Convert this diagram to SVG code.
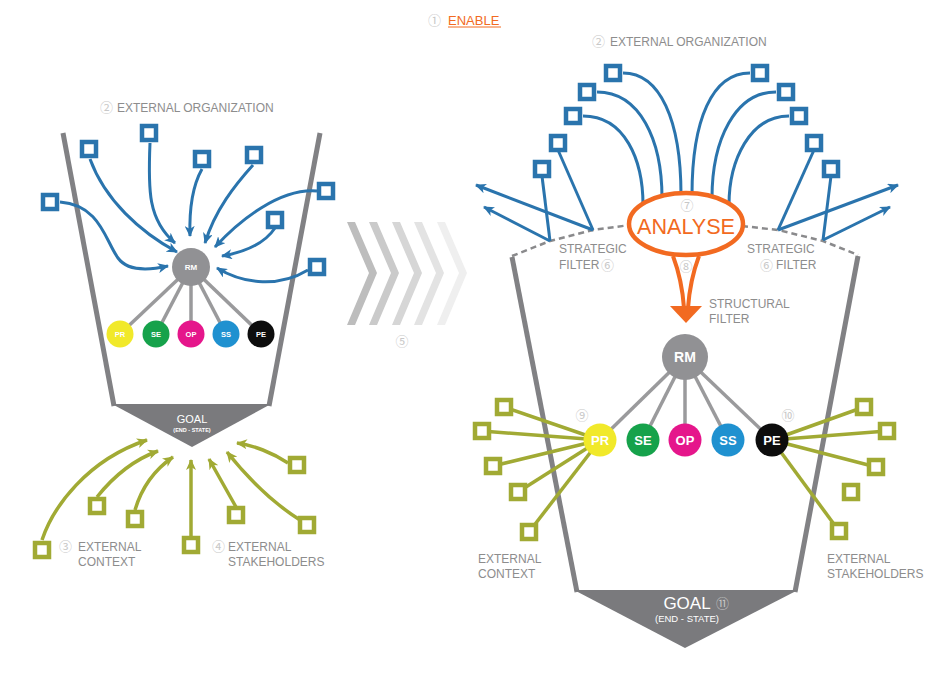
<svg xmlns="http://www.w3.org/2000/svg" width="949" height="681" viewBox="0 0 949 681">
<defs>
<style>
.lbl{font-family:"Liberation Sans",Arial,sans-serif;font-size:12px;fill:#8d8d8d}
.num{font-family:"Noto Sans CJK SC","DejaVu Sans",sans-serif;font-size:13px;fill:#c8c8c8}
.funnel{stroke:#818184;stroke-width:5;fill:none}
.goal{fill:#7a7a7d}
.ba{stroke:#2a74ad;stroke-width:3;fill:none}
.ga{stroke:#a1aa34;stroke-width:3.5;fill:none}
.gl{stroke:#a1aa34;stroke-width:3.5;fill:none}
.bsq{fill:#fff;stroke:#2a74ad;stroke-width:4.5}
.gsq{fill:#fff;stroke:#a1aa34;stroke-width:4.5}
.spoke{stroke:#9a9a9c;stroke-width:3.5}
.ctxt{font-family:"Liberation Sans",Arial,sans-serif;font-weight:bold;fill:#fff;text-anchor:middle}
.gtxt{font-family:"Liberation Sans",Arial,sans-serif;fill:#fff;text-anchor:middle}
.dash{stroke:#8a8a8c;stroke-width:2.5;fill:none;stroke-dasharray:6 4}
</style>
<marker id="ab" markerUnits="userSpaceOnUse" markerWidth="12" markerHeight="10" refX="10" refY="5" orient="auto">
<path d="M0,0 L11,5 L0,10 L3,5 Z" fill="#2a74ad"/>
</marker>
<marker id="ag" markerUnits="userSpaceOnUse" markerWidth="12" markerHeight="10" refX="10" refY="5" orient="auto">
<path d="M0,0 L11,5 L0,10 L3,5 Z" fill="#a1aa34"/>
</marker>
</defs>
<rect width="949" height="681" fill="#fff"/>

<g id="title">
<text class="num" x="428" y="25">①</text>
<text x="448" y="25" font-family="Liberation Sans,Arial,sans-serif" font-size="13" fill="#f26a21">ENABLE</text>
<line x1="448" y1="27" x2="501" y2="27" stroke="#f26a21" stroke-width="1"/>
</g>

<!-- LEFT DIAGRAM -->
<g id="left-funnel">
<line class="funnel" x1="63" y1="133" x2="114" y2="406"/>
<line class="funnel" x1="320" y1="133" x2="269" y2="406"/>
<polygon class="goal" points="112,404 271,404 192,447"/>
<text x="192" y="423" class="gtxt" font-size="11">GOAL</text>
<text x="192" y="432" class="ctxt" font-size="5.5">(END - STATE)</text>
</g>

<g id="left-labels">
<text class="num" x="100" y="112">②</text>
<text class="lbl" x="117" y="112">EXTERNAL ORGANIZATION</text>
<text class="num" x="59" y="551">③</text>
<text class="lbl" x="78" y="551">EXTERNAL</text>
<text class="lbl" x="78" y="566">CONTEXT</text>
<text class="num" x="212" y="551">④</text>
<text class="lbl" x="228" y="551">EXTERNAL</text>
<text class="lbl" x="228" y="566">STAKEHOLDERS</text>
</g>

<g id="left-connectors">
<path class="ba" marker-end="url(#ab)" d="M60,202 C100,205 105,240 118,258 C128,272 150,270 168,266"/>
<path class="ba" marker-end="url(#ab)" d="M90,159 C105,200 140,232 177,252"/>
<path class="ba" marker-end="url(#ab)" d="M150,143 C148,190 148,220 175,243"/>
<path class="ba" marker-end="url(#ab)" d="M202,169 C193,185 189,205 190,236"/>
<path class="ba" marker-end="url(#ab)" d="M253,165 C235,185 215,210 205,243"/>
<path class="ba" marker-end="url(#ab)" d="M317,191 C280,188 240,220 215,247"/>
<path class="ba" marker-end="url(#ab)" d="M275,228 C265,243 245,252 222,256"/>
<path class="ba" marker-end="url(#ab)" d="M308,270 C280,287 245,285 217,268"/>
<line class="spoke" x1="191" y1="267" x2="120" y2="334"/>
<line class="spoke" x1="191" y1="267" x2="156" y2="334"/>
<line class="spoke" x1="191" y1="267" x2="191" y2="334"/>
<line class="spoke" x1="191" y1="267" x2="226" y2="334"/>
<line class="spoke" x1="191" y1="267" x2="261" y2="334"/>
<path class="ga" marker-end="url(#ag)" d="M42,540 C53,507 87,460 147,440"/>
<path class="ga" marker-end="url(#ag)" d="M97,497 C113,477 133,460 158,451"/>
<path class="ga" marker-end="url(#ag)" d="M135,510 C143,483 157,468 173,457"/>
<path class="ga" marker-end="url(#ag)" d="M191,536 L191,460"/>
<path class="ga" marker-end="url(#ag)" d="M236,507 L209,459"/>
<path class="ga" marker-end="url(#ag)" d="M300,520 C273,503 247,477 227,452"/>
<path class="ga" marker-end="url(#ag)" d="M288,463 C273,453 253,445 237,443"/>
</g>

<g id="left-rm"><circle cx="191" cy="267" r="19" fill="#919194"/><text class="ctxt" x="191" y="270" font-size="8">RM</text></g>
<g id="left-pr"><circle cx="120" cy="334" r="13.5" fill="#f1e92a"/><text class="ctxt" x="120" y="337" font-size="7.5">PR</text></g>
<g id="left-se"><circle cx="156" cy="334" r="13.5" fill="#16a24b"/><text class="ctxt" x="156" y="337" font-size="7.5">SE</text></g>
<g id="left-op"><circle cx="191" cy="334" r="13.5" fill="#e5168b"/><text class="ctxt" x="191" y="337" font-size="7.5">OP</text></g>
<g id="left-ss"><circle cx="226" cy="334" r="13.5" fill="#1f91d0"/><text class="ctxt" x="226" y="337" font-size="7.5">SS</text></g>
<g id="left-pe"><circle cx="261" cy="334" r="13.5" fill="#0d0d0d"/><text class="ctxt" x="261" y="337" font-size="7.5">PE</text></g>

<g id="left-blue-squares">
<rect class="bsq" x="43" y="195" width="14" height="14"/>
<rect class="bsq" x="82" y="142" width="14" height="14"/>
<rect class="bsq" x="142" y="126" width="14" height="14"/>
<rect class="bsq" x="195" y="152" width="14" height="14"/>
<rect class="bsq" x="247" y="148" width="14" height="14"/>
<rect class="bsq" x="319" y="184" width="14" height="14"/>
<rect class="bsq" x="268" y="213" width="14" height="14"/>
<rect class="bsq" x="310" y="260" width="14" height="14"/>
</g>
<g id="left-green-squares">
<rect class="gsq" x="35" y="543" width="14" height="14"/>
<rect class="gsq" x="90" y="499" width="14" height="14"/>
<rect class="gsq" x="128" y="512" width="14" height="14"/>
<rect class="gsq" x="184" y="538" width="14" height="14"/>
<rect class="gsq" x="229" y="508" width="14" height="14"/>
<rect class="gsq" x="300" y="518" width="14" height="14"/>
<rect class="gsq" x="290" y="458" width="14" height="14"/>
</g>

<!-- CHEVRONS -->
<g id="chevrons">
<polygon points="347,222 355,222 377,273 355,325 347,325 369,273" fill="#bdbdbd"/>
<polygon points="369,222 377,222 399,273 377,325 369,325 391,273" fill="#cacaca"/>
<polygon points="392,222 400,222 422,273 400,325 392,325 414,273" fill="#d6d6d6"/>
<polygon points="414,222 422,222 444,273 422,325 414,325 436,273" fill="#e3e3e3"/>
<polygon points="437,222 445,222 467,273 445,325 437,325 459,273" fill="#efefef"/>
<text class="num" x="402" y="346" text-anchor="middle">⑤</text>
</g>

<!-- RIGHT DIAGRAM -->
<g id="right-funnel">
<line class="funnel" x1="512" y1="257" x2="577" y2="592"/>
<line class="funnel" x1="858" y1="256" x2="795" y2="592"/>
<polygon class="goal" points="574,590 798,590 685,648"/>
<text x="687" y="609" class="gtxt" font-size="17">GOAL</text>
<text class="num" x="716" y="608" font-size="14" fill="#d0d0d0">⑪</text>
<text x="687" y="622" class="gtxt" font-size="9.5">(END - STATE)</text>
</g>

<g id="right-labels">
<text class="num" x="592" y="46">②</text>
<text class="lbl" x="610" y="46">EXTERNAL ORGANIZATION</text>
<text class="lbl" x="559" y="253">STRATEGIC</text>
<text class="lbl" x="559" y="269">FILTER</text>
<text class="num" x="601" y="270" font-size="11.5">⑥</text>
<text class="lbl" x="747" y="253">STRATEGIC</text>
<text class="num" x="760" y="270" font-size="11.5">⑥</text>
<text class="lbl" x="776" y="269">FILTER</text>
<text class="lbl" x="709" y="308">STRUCTURAL</text>
<text class="lbl" x="709" y="323">FILTER</text>
<text class="num" x="686" y="271" text-anchor="middle">⑧</text>
<text class="num" x="582" y="420" text-anchor="middle">⑨</text>
<text class="num" x="788" y="420" text-anchor="middle">⑩</text>
<text class="lbl" x="478" y="563">EXTERNAL</text>
<text class="lbl" x="478" y="578">CONTEXT</text>
<text class="lbl" x="827" y="563">EXTERNAL</text>
<text class="lbl" x="827" y="578">STAKEHOLDERS</text>
</g>

<g id="right-connectors">
<polyline class="dash" points="512,256 550,241 593,230 630,225"/>
<polyline class="dash" points="742,226 778,230 823,241 858,255"/>
<path class="ba" d="M623,73 C660,73 681,120 681,195"/>
<path class="ba" d="M597,92 C640,92 662,140 662,198"/>
<path class="ba" d="M583,116 C625,116 643,160 643,205"/>
<path class="ba" d="M750,73 C712,73 692,120 692,195"/>
<path class="ba" d="M776,92 C735,92 712,140 712,198"/>
<path class="ba" d="M789,116 C750,116 729,160 729,205"/>
<polyline class="ba" points="558,150 593,230"/>
<polyline class="ba" marker-end="url(#ab)" points="593,230 476,185"/>
<polyline class="ba" points="542,176 550,241"/>
<polyline class="ba" marker-end="url(#ab)" points="550,241 484,207"/>
<polyline class="ba" points="814,150 778,230"/>
<polyline class="ba" marker-end="url(#ab)" points="778,230 898,185"/>
<polyline class="ba" points="831,176 823,240"/>
<polyline class="ba" marker-end="url(#ab)" points="823,240 890,207"/>
<path d="M673,256 Q682,280 684,308 M699,256 Q690,280 688,308" stroke="#f26a21" stroke-width="4" fill="none"/>
<polygon points="670,306 702,306 686,323" fill="#f26a21"/>
<line class="spoke" stroke-width="4" x1="685" y1="357" x2="600" y2="440"/>
<line class="spoke" stroke-width="4" x1="685" y1="357" x2="643" y2="440"/>
<line class="spoke" stroke-width="4" x1="685" y1="357" x2="685" y2="440"/>
<line class="spoke" stroke-width="4" x1="685" y1="357" x2="728" y2="440"/>
<line class="spoke" stroke-width="4" x1="685" y1="357" x2="772" y2="440"/>
<line class="gl" x1="504" y1="407" x2="600" y2="440"/>
<line class="gl" x1="482" y1="431" x2="600" y2="440"/>
<line class="gl" x1="493" y1="466" x2="600" y2="440"/>
<line class="gl" x1="518" y1="492" x2="600" y2="440"/>
<line class="gl" x1="529" y1="532" x2="600" y2="440"/>
<line class="gl" x1="864" y1="407" x2="772" y2="440"/>
<line class="gl" x1="887" y1="431" x2="772" y2="440"/>
<line class="gl" x1="876" y1="467" x2="772" y2="440"/>
<line class="gl" x1="839" y1="531" x2="772" y2="440"/>
</g>

<g id="analyse">
<ellipse cx="686" cy="224" rx="57" ry="31" fill="#fff" stroke="#f26a21" stroke-width="4.5"/>
<text class="num" x="687" y="210" text-anchor="middle">⑦</text>
<text x="686" y="234" text-anchor="middle" font-family="Liberation Sans,Arial,sans-serif" font-size="22" fill="#f26a21" textLength="98" lengthAdjust="spacingAndGlyphs">ANALYSE</text>
</g>

<g id="right-rm"><circle cx="685" cy="357" r="23" fill="#919194"/><text class="ctxt" x="685" y="362" font-size="14">RM</text></g>
<g id="right-pr"><circle cx="600" cy="440" r="16.5" fill="#f1e92a"/><text class="ctxt" x="600" y="445" font-size="13">PR</text></g>
<g id="right-se"><circle cx="643" cy="440" r="16.5" fill="#16a24b"/><text class="ctxt" x="643" y="445" font-size="13">SE</text></g>
<g id="right-op"><circle cx="685" cy="440" r="16.5" fill="#e5168b"/><text class="ctxt" x="685" y="445" font-size="13">OP</text></g>
<g id="right-ss"><circle cx="728" cy="440" r="16.5" fill="#1f91d0"/><text class="ctxt" x="728" y="445" font-size="13">SS</text></g>
<g id="right-pe"><circle cx="772" cy="440" r="16.5" fill="#0d0d0d"/><text class="ctxt" x="772" y="445" font-size="13">PE</text></g>

<g id="right-blue-squares">
<rect class="bsq" x="606" y="66" width="14" height="14"/>
<rect class="bsq" x="580" y="85" width="14" height="14"/>
<rect class="bsq" x="566" y="109" width="14" height="14"/>
<rect class="bsq" x="551" y="136" width="14" height="14"/>
<rect class="bsq" x="535" y="162" width="14" height="14"/>
<rect class="bsq" x="753" y="66" width="14" height="14"/>
<rect class="bsq" x="779" y="85" width="14" height="14"/>
<rect class="bsq" x="792" y="109" width="14" height="14"/>
<rect class="bsq" x="807" y="136" width="14" height="14"/>
<rect class="bsq" x="824" y="162" width="14" height="14"/>
</g>
<g id="right-green-squares">
<rect class="gsq" x="497" y="400" width="14" height="14"/>
<rect class="gsq" x="475" y="424" width="14" height="14"/>
<rect class="gsq" x="486" y="459" width="14" height="14"/>
<rect class="gsq" x="511" y="485" width="14" height="14"/>
<rect class="gsq" x="522" y="525" width="14" height="14"/>
<rect class="gsq" x="857" y="400" width="14" height="14"/>
<rect class="gsq" x="880" y="424" width="14" height="14"/>
<rect class="gsq" x="869" y="460" width="14" height="14"/>
<rect class="gsq" x="844" y="485" width="14" height="14"/>
<rect class="gsq" x="832" y="524" width="14" height="14"/>
</g>
</svg>
